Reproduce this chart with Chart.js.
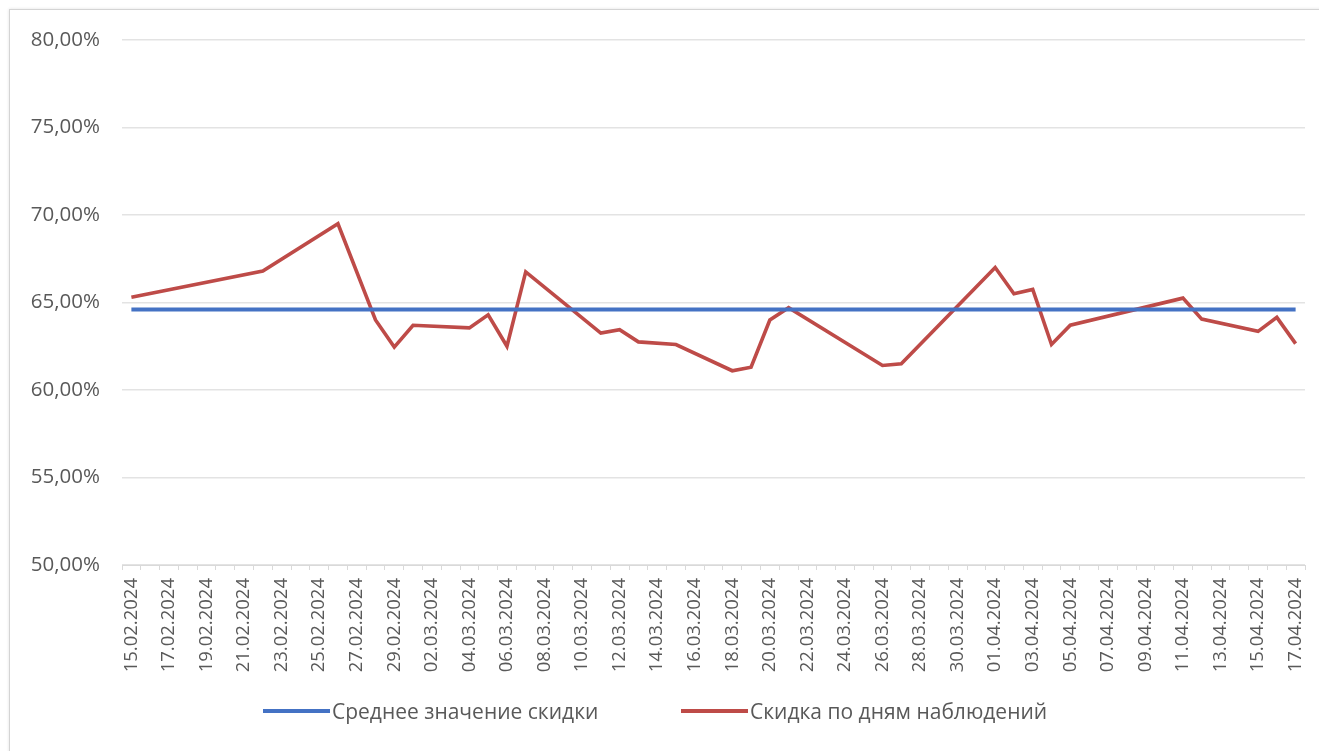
<!DOCTYPE html>
<html>
<head>
<meta charset="utf-8">
<script src="https://cdn.jsdelivr.net/npm/chart.js@4.4.1/dist/chart.umd.min.js"></script>
<style>
  html, body { margin: 0; padding: 0; background: #fff; }
  body { width: 1319px; height: 751px; position: relative; overflow: hidden; font-family: "Open Sans", sans-serif; }
  #frame { position: absolute; left: 9px; top: 9px; width: 1320px; height: 760px; border: 1px solid #d4d4d4; box-shadow: 0 0 3px rgba(0,0,0,0.12); }
  #wrap { position: absolute; left: 0; top: 0; width: 1319px; height: 751px; }
  .leg { position: absolute; top: 696px; height: 30px; display: flex; align-items: center; color: #595959; font-size: 21px; white-space: nowrap; }
  .leg i { display: inline-block; width: 67px; height: 4px; margin-right: 2px; }
</style>
</head>
<body>
<div id="frame"></div>
<div id="wrap"><canvas id="c" width="1319" height="751"></canvas></div>
<div class="leg" style="left:263px"><i style="background:#4472C4"></i><span id="l1"></span></div>
<div class="leg" style="left:681px"><i style="background:#BE4B48"></i><span id="l2"></span></div>
<script>
const categories = [
  "15.02.2024","16.02.2024","17.02.2024","18.02.2024","19.02.2024","20.02.2024","21.02.2024","22.02.2024",
  "23.02.2024","24.02.2024","25.02.2024","26.02.2024","27.02.2024","28.02.2024","29.02.2024",
  "01.03.2024","02.03.2024","03.03.2024","04.03.2024","05.03.2024","06.03.2024","07.03.2024","08.03.2024",
  "09.03.2024","10.03.2024","11.03.2024","12.03.2024","13.03.2024","14.03.2024","15.03.2024","16.03.2024",
  "17.03.2024","18.03.2024","19.03.2024","20.03.2024","21.03.2024","22.03.2024","23.03.2024","24.03.2024",
  "25.03.2024","26.03.2024","27.03.2024","28.03.2024","29.03.2024","30.03.2024","31.03.2024",
  "01.04.2024","02.04.2024","03.04.2024","04.04.2024","05.04.2024","06.04.2024","07.04.2024","08.04.2024",
  "09.04.2024","10.04.2024","11.04.2024","12.04.2024","13.04.2024","14.04.2024","15.04.2024","16.04.2024",
  "17.04.2024"
];
const obsDates = [
  "15.02.2024","22.02.2024","26.02.2024","28.02.2024","29.02.2024","01.03.2024","04.03.2024","05.03.2024",
  "06.03.2024","07.03.2024","11.03.2024","12.03.2024","13.03.2024","15.03.2024","18.03.2024","19.03.2024",
  "20.03.2024","21.03.2024","26.03.2024","27.03.2024","01.04.2024","02.04.2024","03.04.2024","04.04.2024",
  "05.04.2024","11.04.2024","12.04.2024","15.04.2024","16.04.2024","17.04.2024"
];
const obsValues = [
  65.3, 66.8, 69.5, 64.0, 62.45, 63.7, 63.55, 64.3,
  62.5, 66.75, 63.25, 63.45, 62.75, 62.6, 61.1, 61.3,
  64.0, 64.7, 61.4, 61.5, 67.0, 65.5, 65.75, 62.6,
  63.7, 65.25, 64.05, 63.35, 64.15, 62.65
];
const meanValue = 64.6;
const seriesNames = ["Среднее значение скидки", "Скидка по дням наблюдений"];
const yMin = 50, yMax = 80, yStep = 5;

document.getElementById('l1').textContent = seriesNames[0];
document.getElementById('l2').textContent = seriesNames[1];

const textColor = '#595959';
const family = '"Open Sans", sans-serif';

new Chart(document.getElementById('c'), {
  type: 'line',
  data: {
    labels: categories,
    datasets: [
      {
        label: seriesNames[0],
        data: [{ x: categories[0], y: meanValue }, { x: categories[categories.length - 1], y: meanValue }],
        borderColor: '#4472C4',
        backgroundColor: '#4472C4',
        borderWidth: 4,
        pointRadius: 0,
        tension: 0
      },
      {
        label: seriesNames[1],
        data: obsDates.map((d, i) => ({ x: d, y: obsValues[i] })),
        borderColor: '#BE4B48',
        backgroundColor: '#BE4B48',
        borderWidth: 3.6,
        pointRadius: 0,
        tension: 0
      }
    ]
  },
  options: {
    responsive: false,
    animation: false,
    layout: { padding: { left: 0, right: 14, top: 40, bottom: 64 } },
    plugins: { legend: { display: false }, tooltip: { enabled: false } },
    scales: {
      x: {
        type: 'category',
        offset: true,
        grid: { display: true, drawOnChartArea: false, color: '#d9d9d9', tickLength: 5, offset: true },
        border: { display: true, color: '#d9d9d9', width: 1 },
        ticks: {
          autoSkip: false,
          maxRotation: 90,
          minRotation: 90,
          padding: 8,
          color: textColor,
          font: { family: family, size: 18.5 },
          callback: function (v, i) { return i % 2 === 0 ? categories[i] : ''; }
        },
        afterFit: function (s) { s.height = 122; s.paddingLeft = 0; s.paddingRight = 0; }
      },
      y: {
        min: yMin,
        max: yMax,
        grid: { color: '#e3e3e3', lineWidth: 1.5, drawTicks: false },
        border: { display: false },
        ticks: {
          stepSize: yStep,
          padding: 22,
          color: textColor,
          font: { family: family, size: 20.5 },
          callback: function (v) { return v.toFixed(2).replace('.', ',') + '%'; }
        },
        afterFit: function (s) { s.width = 122; }
      }
    }
  }
});
</script>
</body>
</html>
